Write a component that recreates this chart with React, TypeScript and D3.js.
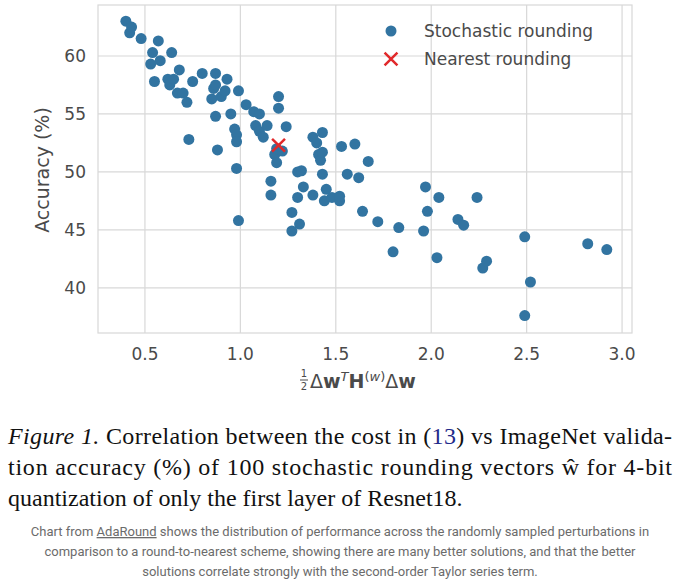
import { useEffect, useRef } from "react";
import * as d3 from "d3";

const stochX = [0.40,0.42,0.43,0.48,0.53,0.54,0.55,0.57,0.58,0.62,0.63,0.64,0.65,0.67,0.68,0.70,0.72,0.73,0.75,0.80,0.85,0.86,0.87,0.87,0.87,0.88,0.90,0.92,0.93,0.95,0.97,0.98,0.98,0.98,0.99,0.99,1.03,1.07,1.08,1.10,1.10,1.12,1.14,1.16,1.16,1.18,1.19,1.19,1.20,1.20,1.22,1.24,1.27,1.27,1.30,1.30,1.31,1.32,1.33,1.38,1.38,1.40,1.41,1.42,1.43,1.43,1.43,1.44,1.45,1.48,1.52,1.52,1.53,1.56,1.60,1.62,1.64,1.67,1.72,1.80,1.83,1.96,1.97,1.98,2.04,2.03,2.14,2.17,2.24,2.27,2.29,2.49,2.52,2.49,2.82,2.92];
const stochY = [63.0,62.0,62.5,61.5,59.3,60.3,57.8,61.3,59.6,58.0,57.5,60.3,58.0,56.8,58.8,56.8,56.0,52.8,57.8,58.5,56.3,57.2,58.5,57.5,54.8,51.9,56.5,57.0,58.0,55.0,53.7,53.2,52.6,50.3,45.8,57.0,55.8,55.2,54.0,53.5,55.0,53.0,54.0,48.0,49.2,51.5,50.8,52.0,56.5,55.5,51.8,53.9,44.9,46.5,50.0,47.8,45.5,50.1,48.7,48.0,53.0,52.5,51.5,51.0,53.4,51.7,49.8,47.5,48.5,47.8,47.5,47.9,52.2,49.8,52.4,49.5,46.6,50.9,45.7,43.1,45.2,44.9,48.7,46.6,47.8,42.6,45.9,45.4,47.8,41.7,42.3,44.4,40.5,37.6,43.8,43.3];
const nearest = [{ x: 1.2, y: 52.3 }];
const xTicks = [0.5, 1.0, 1.5, 2.0, 2.5, 3.0];
const yTicks = [40, 45, 50, 55, 60];

const blue = "#3274a1";
const red = "#e1292b";
const grey = "#4a4a4a";

export default function App() {
  const ref = useRef<SVGSVGElement>(null);

  useEffect(() => {
    document.body.style.margin = "0";
    const svg = d3.select(ref.current);
    svg.selectAll("*").remove();

    const x = d3.scaleLinear().domain([0.254, 3.052]).range([98, 632]);
    const y = d3.scaleLinear().domain([36.1, 64.4]).range([333, 5]);

    const g = svg.append("g");
    g.append("rect").attr("x", 98).attr("y", 5).attr("width", 534).attr("height", 328)
      .attr("fill", "white").attr("stroke", "#d8d8d8").attr("stroke-width", 1.2);

    // grid
    g.selectAll(".gx").data(xTicks).join("line")
      .attr("x1", (d) => x(d)).attr("x2", (d) => x(d)).attr("y1", 5).attr("y2", 333)
      .attr("stroke", "#d8d8d8").attr("stroke-width", 1.2);
    g.selectAll(".gy").data(yTicks).join("line")
      .attr("y1", (d) => y(d)).attr("y2", (d) => y(d)).attr("x1", 98).attr("x2", 632)
      .attr("stroke", "#d8d8d8").attr("stroke-width", 1.2);

    const font = "DejaVu Sans, sans-serif";
    g.selectAll(".tx").data(xTicks).join("text")
      .attr("x", (d) => x(d)).attr("y", 360).attr("text-anchor", "middle")
      .attr("font-family", font).attr("font-size", 17).attr("fill", grey)
      .text((d) => d.toFixed(1));
    g.selectAll(".ty").data(yTicks).join("text")
      .attr("x", 86).attr("y", (d) => y(d)).attr("dy", "0.35em").attr("text-anchor", "end")
      .attr("font-family", font).attr("font-size", 17).attr("fill", grey)
      .text((d) => d);

    g.append("text").attr("transform", "translate(49,170) rotate(-90)")
      .attr("text-anchor", "middle").attr("font-family", font).attr("font-size", 19)
      .attr("fill", grey).text("Accuracy (%)");

    // x label
    const xl = g.append("g").attr("font-family", font).attr("fill", grey);
    xl.append("text").attr("x", 304).attr("y", 377).attr("font-size", 10).attr("text-anchor", "middle").text("1");
    xl.append("line").attr("x1", 300).attr("x2", 308).attr("y1", 380).attr("y2", 380).attr("stroke", grey);
    xl.append("text").attr("x", 304).attr("y", 390).attr("font-size", 10).attr("text-anchor", "middle").text("2");
    const t = xl.append("text").attr("x", 310).attr("y", 388).attr("font-size", 19);
    t.append("tspan").text("Δ");
    t.append("tspan").attr("font-weight", "bold").text("w");
    t.append("tspan").attr("font-size", 13).attr("dy", -7).attr("font-style", "italic").text("T");
    t.append("tspan").attr("font-weight", "bold").attr("dy", 7).text("H");
    t.append("tspan").attr("font-size", 13).attr("dy", -7).text("(");
    t.append("tspan").attr("font-size", 13).attr("font-style", "italic").text("w");
    t.append("tspan").attr("font-size", 13).text(")");
    t.append("tspan").attr("dy", 7).text("Δ");
    t.append("tspan").attr("font-weight", "bold").text("w");

    // points
    g.selectAll(".pt").data(stochX.map((v, i) => ({ x: v, y: stochY[i] }))).join("circle")
      .attr("cx", (d) => x(d.x)).attr("cy", (d) => y(d.y)).attr("r", 5.5).attr("fill", blue);

    const cross = d3.symbol().type(d3.symbolX).size(110);
    g.selectAll(".nr").data(nearest).join("path")
      .attr("d", cross).attr("transform", (d) => `translate(${x(d.x)},${y(d.y)})`)
      .attr("fill", red).attr("stroke", red).attr("stroke-width", 2.5);

    // legend
    g.append("circle").attr("cx", 391).attr("cy", 31).attr("r", 5.5).attr("fill", blue);
    g.append("path").attr("d", cross).attr("transform", "translate(391,59)")
      .attr("fill", red).attr("stroke", red).attr("stroke-width", 2.5);
    g.append("text").attr("x", 424).attr("y", 31).attr("dy", "0.35em").attr("font-family", font)
      .attr("font-size", 17).attr("fill", grey).text("Stochastic rounding");
    g.append("text").attr("x", 424).attr("y", 59).attr("dy", "0.35em").attr("font-family", font)
      .attr("font-size", 17).attr("fill", grey).text("Nearest rounding");

    // caption
    const cap = g.append("g").attr("font-family", "Liberation Serif, Times New Roman, serif")
      .attr("font-size", 24).attr("fill", "#111");
    const l1 = cap.append("text").attr("x", 8).attr("y", 444).attr("textLength", 664);
    l1.append("tspan").attr("font-style", "italic").text("Figure 1.");
    l1.append("tspan").text(" Correlation between the cost in (");
    l1.append("tspan").attr("fill", "#1f2a8a").text("13");
    l1.append("tspan").text(") vs ImageNet valida-");
    cap.append("text").attr("x", 8).attr("y", 475).attr("textLength", 664)
      .text("tion accuracy (%) of 100 stochastic rounding vectors ŵ for 4-bit");
    cap.append("text").attr("x", 8).attr("y", 506).text("quantization of only the first layer of Resnet18.");

    const sub = g.append("g").attr("font-family", "Roboto, sans-serif").attr("font-size", 13)
      .attr("fill", "#6b6b6b").attr("text-anchor", "middle");
    const s1 = sub.append("text").attr("x", 340).attr("y", 536);
    s1.append("tspan").text("Chart from ");
    s1.append("tspan").attr("text-decoration", "underline").text("AdaRound");
    s1.append("tspan").text(" shows the distribution of performance across the randomly sampled perturbations in");
    sub.append("text").attr("x", 340).attr("y", 556)
      .text("comparison to a round-to-nearest scheme, showing there are many better solutions, and that the better");
    sub.append("text").attr("x", 340).attr("y", 576)
      .text("solutions correlate strongly with the second-order Taylor series term.");
  }, []);

  return <svg ref={ref} width={680} height={583} style={{ display: "block" }} />;
}
